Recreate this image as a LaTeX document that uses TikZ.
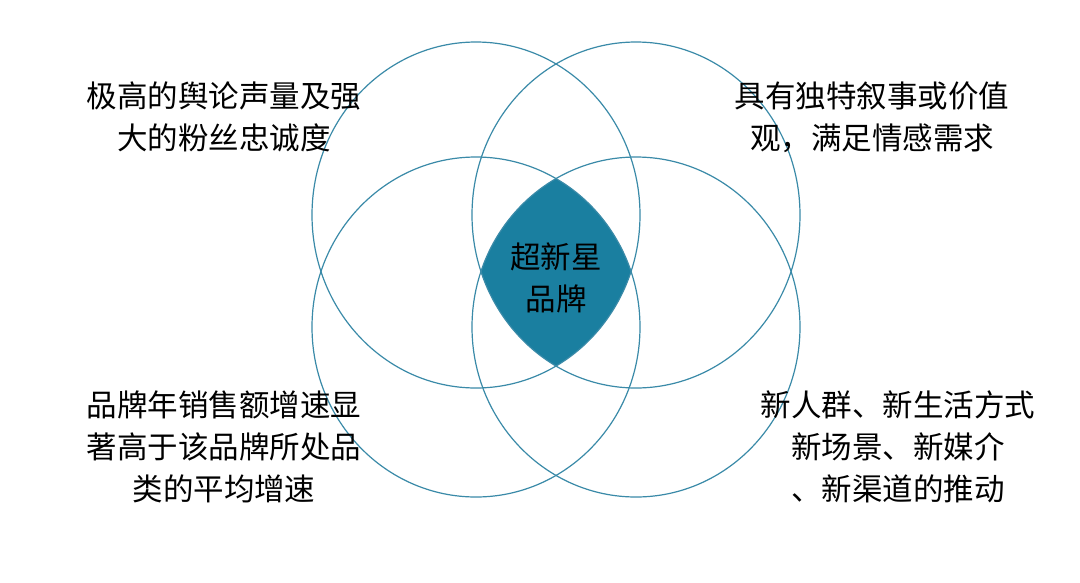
\documentclass[tikz,border=0pt]{standalone}
\usepackage{fontspec}
\newfontfamily\cjk{Noto Sans CJK SC}
\definecolor{ln}{HTML}{3A8AA8}
\definecolor{fl}{HTML}{1A7FA0}
\begin{document}
\begin{tikzpicture}[x=1pt,y=-1pt,
  lbl/.style={font=\cjk\fontsize{30.5}{42}\selectfont,align=center,text=black},
  ell/.style={draw=ln,line width=1.2pt}]
\useasboundingbox (0,0) rectangle (1080,582);
\fill[white] (0,0) rectangle (1080,582);
\begin{scope}
\clip (476,215) ellipse [x radius=164,y radius=173];
\clip (636,215) ellipse [x radius=164,y radius=173];
\clip (476,327) ellipse [x radius=164,y radius=170];
\fill[fl] (636,327) ellipse [x radius=164,y radius=170];
\end{scope}
\draw[ell] (476,215) ellipse [x radius=164,y radius=173];
\draw[ell] (636,215) ellipse [x radius=164,y radius=173];
\draw[ell] (476,327) ellipse [x radius=164,y radius=170];
\draw[ell] (636,327) ellipse [x radius=164,y radius=170];
\node[lbl] (c) at (556,278) {超新星\\品牌};
\node[lbl] (tl) at (224,117) {极高的舆论声量及强\\大的粉丝忠诚度};
\node[lbl] (tr) at (872,117) {具有独特叙事或价值\\观，满足情感需求};
\node[lbl] (bl) at (224,447) {品牌年销售额增速显\\著高于该品牌所处品\\类的平均增速};
\node[lbl] (br) at (898,447) {新人群、新生活方式\\新场景、新媒介\\、新渠道的推动};
\end{tikzpicture}
\end{document}
